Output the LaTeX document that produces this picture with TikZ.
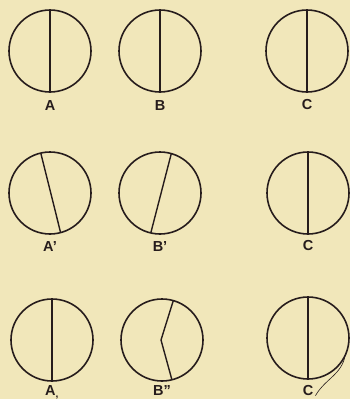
\documentclass[tikz,border=0pt]{standalone}
\usepackage{fontspec}
\setsansfont{Liberation Sans}
\usetikzlibrary{positioning}

\definecolor{paper}{RGB}{241,231,186}
\definecolor{ink}{RGB}{38,28,28}

\begin{document}
\begin{tikzpicture}[
    x=1pt, y=-1pt,
    ring/.style={draw=ink, circle, line width=1.6pt, minimum size=82pt, inner sep=0pt, outer sep=0pt},
    chord/.style={draw=ink, line width=1.4pt},
    lbl/.style={text=ink, font=\fontsize{14.5}{14.5}\selectfont\sffamily\bfseries, inner sep=0pt}
]
\fill[paper] (0,0) rectangle (350,399);
\useasboundingbox (0,0) rectangle (350,399);

% Row 1
\node[ring] (a1) at (50,51) {};
\node[ring] (b1) at (160,51) {};
\node[ring] (c1) at (307,51) {};
\draw[chord] (a1.north) -- (a1.south);
\draw[chord] (b1.north) -- (b1.south);
\draw[chord] (c1.north) -- (c1.south);
\node[lbl, below=8pt of a1] (la1) {A};
\node[lbl, below=8pt of b1] (lb1) {B};
\node[lbl, below=7pt of c1] (lc1) {C};

% Row 2
\node[ring] (a2) at (50,193) {};
\node[ring] (b2) at (160,193) {};
\node[ring] (c2) at (308,193) {};
\draw[chord] (a2.103) -- (a2.285);
\draw[chord] (b2.74) -- (b2.257);
\draw[chord] (c2.north) -- (c2.south);
\node[lbl, below=7pt of a2] (la2) {A’};
\node[lbl, below=7pt of b2] (lb2) {B’};
\node[lbl, below=6pt of c2] (lc2) {C};

% Row 3
\node[ring] (a3) at (52,340) {};
\node[ring] (b3) at (162,340) {};
\node[ring] (c3) at (308,338) {};
\coordinate (bend) at (161,340);
\draw[chord] (a3.north) -- (a3.south);
\draw[chord] (b3.74) -- (bend) -- (b3.284);
\draw[chord] (c3.north) -- (c3.south);
\node[lbl, below=4pt of a3] (la3) {A\textsubscript{,}};
\node[lbl, below=4pt of b3] (lb3) {B”};
\node[lbl, below=6pt of c3] (lc3) {C};
\draw[ink, line width=0.6pt] (c3.-25) to[out=-100, in=60] ([xshift=2pt]lc3.south east);
\end{tikzpicture}
\end{document}
